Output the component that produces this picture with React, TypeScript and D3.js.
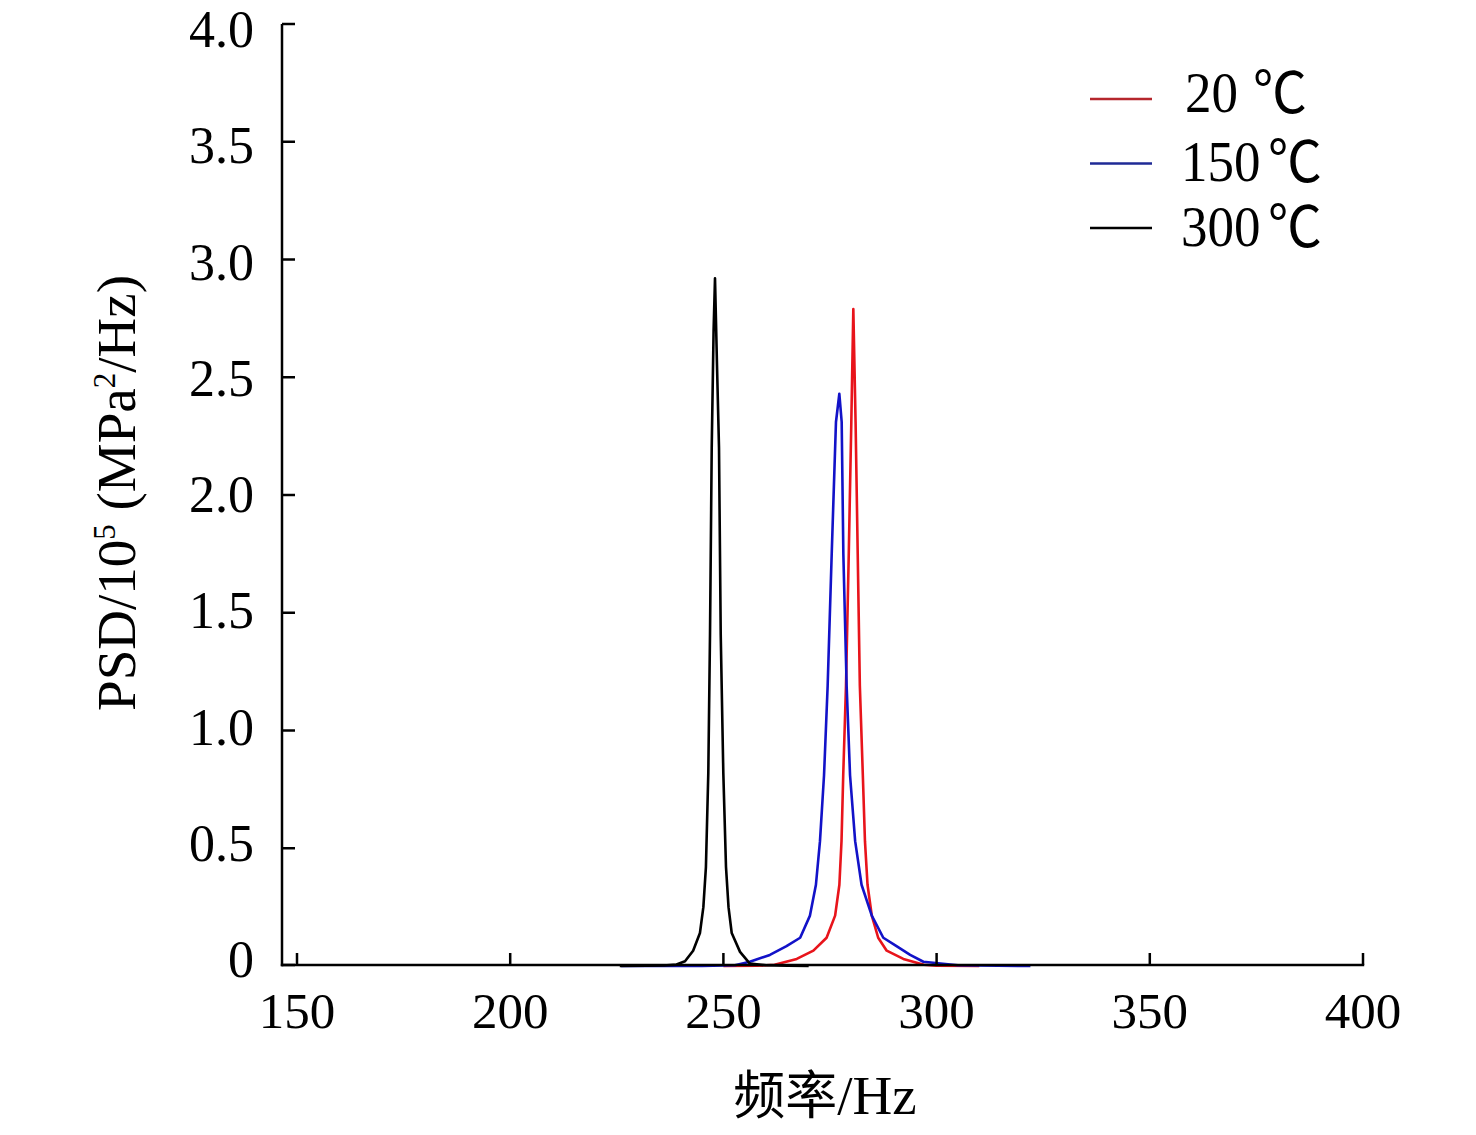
import { useEffect, useRef } from 'react'
import * as d3 from 'd3'

// (Hz, PSD / 1e5 MPa^2/Hz)
const freq20 = [250, 258, 262, 267.2, 271.1, 274.2, 276.2, 277.2, 277.7, 278.1, 278.75, 279.4, 280.0, 280.47, 281.0, 281.5, 282.0, 282.7, 283.2, 283.8, 284.8, 286.3, 288.3, 292.2, 297, 300, 310]
const psd20 = [0, 0.001, 0.005, 0.03, 0.065, 0.12, 0.214, 0.345, 0.53, 0.81, 1.19, 1.75, 2.31, 2.79, 2.31, 1.75, 1.19, 0.81, 0.53, 0.345, 0.214, 0.12, 0.065, 0.03, 0.005, 0.001, 0]

const freq150 = [226, 245, 252.7, 256.2, 260.9, 264.8, 268.0, 270.3, 271.7, 272.65, 273.6, 274.45, 275.4, 276.4, 277.19, 277.74, 278.13, 278.9, 279.7, 280.9, 282.4, 284.8, 287.5, 290.6, 293.8, 296.9, 305, 322]
const psd150 = [0, 0, 0.003, 0.018, 0.047, 0.084, 0.12, 0.214, 0.345, 0.53, 0.81, 1.19, 1.75, 2.31, 2.43, 2.31, 1.75, 1.19, 0.81, 0.53, 0.345, 0.214, 0.12, 0.084, 0.047, 0.018, 0.003, 0]

const freq300 = [225.7, 232, 236, 239, 241, 242.9, 244.5, 245.3, 245.9, 246.46, 246.86, 247.26, 247.7, 248.03, 248.5, 248.97, 249.37, 249.98, 250.61, 251.2, 251.95, 253.9, 256.2, 260, 265, 270]
const psd300 = [0, 0.001, 0.002, 0.006, 0.02, 0.065, 0.14, 0.25, 0.42, 0.82, 1.41, 2.2, 2.7, 2.92, 2.55, 2.2, 1.41, 0.82, 0.42, 0.25, 0.14, 0.06, 0.01, 0.003, 0.001, 0]

const seriesTemps = ['20', '150', '300']
const xTicks = [150, 200, 250, 300, 350, 400]
const yTicks = [0, 0.5, 1.0, 1.5, 2.0, 2.5, 3.0, 3.5, 4.0]

const width = 1476
const height = 1135
const serif = '"Liberation Serif", "Times New Roman", serif'
const cjk = '"Noto Sans CJK SC", sans-serif'

export default function App() {
  const svgRef = useRef<SVGSVGElement>(null)

  useEffect(() => {
    if (!svgRef.current) return
    const svg = d3.select(svgRef.current)
    svg.selectAll('*').remove()

    const x = d3.scaleLinear().domain([150, 400]).range([297, 1363])
    const y = d3.scaleLinear().domain([0, 4]).range([966, 24])
    // tick labels sit on their own, slightly tighter spacing
    const yLabel = d3.scaleLinear().domain([0, 4]).range([977, 47])
    const axisLeft = 282
    const axisBottom = 965

    const series = [
      { temp: seriesTemps[0], f: freq20, v: psd20, color: '#e8141b', legend: '#b5262c' },
      { temp: seriesTemps[1], f: freq150, v: psd150, color: '#1212c8', legend: '#1f2a96' },
      { temp: seriesTemps[2], f: freq300, v: psd300, color: '#000000', legend: '#000000' }
    ]

    const line = d3.line<[number, number]>()
      .x(d => x(d[0]))
      .y(d => y(d[1]))

    series.forEach(s => {
      const pts = s.f.map((f, i) => [f, s.v[i]] as [number, number])
      svg.append('path')
        .attr('d', line(pts))
        .attr('fill', 'none')
        .attr('stroke', s.color)
        .attr('stroke-width', 2.6)
        .attr('stroke-linejoin', 'round')
    })

    // axes
    svg.append('line')
      .attr('x1', axisLeft).attr('x2', axisLeft)
      .attr('y1', y(4)).attr('y2', axisBottom + 1.2)
      .attr('stroke', '#000').attr('stroke-width', 2.5)
    svg.append('line')
      .attr('x1', axisLeft - 1.2).attr('x2', x(400) + 1.2)
      .attr('y1', axisBottom).attr('y2', axisBottom)
      .attr('stroke', '#000').attr('stroke-width', 2.5)

    yTicks.forEach(t => {
      const yy = t === 0 ? axisBottom : y(t)
      svg.append('line')
        .attr('x1', axisLeft).attr('x2', axisLeft + 13)
        .attr('y1', yy).attr('y2', yy)
        .attr('stroke', '#000').attr('stroke-width', 2.5)
      svg.append('text')
        .attr('x', 254)
        .attr('y', yLabel(t))
        .attr('text-anchor', 'end')
        .style('font-family', serif)
        .style('font-size', '52px')
        .text(t === 0 ? '0' : t.toFixed(1))
    })

    xTicks.forEach(t => {
      svg.append('line')
        .attr('x1', x(t)).attr('x2', x(t))
        .attr('y1', axisBottom).attr('y2', axisBottom - 12)
        .attr('stroke', '#000').attr('stroke-width', 2.5)
      svg.append('text')
        .attr('x', x(t))
        .attr('y', 1028)
        .attr('text-anchor', 'middle')
        .style('font-family', serif)
        .style('font-size', '51px')
        .text(t)
    })

    // axis titles
    const xt = svg.append('text')
      .attr('x', 825)
      .attr('y', 1114)
      .attr('text-anchor', 'middle')
      .style('font-family', serif)
      .style('font-size', '55px')
    xt.append('tspan').style('font-family', cjk).style('font-size', '52px').text('频率')
    xt.append('tspan').text('/Hz')

    const yt = svg.append('text')
      .attr('transform', 'translate(135,493) rotate(-90)')
      .attr('text-anchor', 'middle')
      .style('font-family', serif)
      .style('font-size', '55px')
    yt.append('tspan').text('PSD/10')
    yt.append('tspan').attr('dy', -20).style('font-size', '31px').text('5')
    yt.append('tspan').attr('dy', 20).text(' (MPa')
    yt.append('tspan').attr('dy', -20).style('font-size', '31px').text('2')
    yt.append('tspan').attr('dy', 20).text('/Hz)')

    // legend
    const legendBase = [112, 181, 246]
    series.forEach((s, i) => {
      const ly = 99 + i * 64.5
      svg.append('line')
        .attr('x1', 1090).attr('x2', 1152)
        .attr('y1', ly).attr('y2', ly)
        .attr('stroke', s.legend).attr('stroke-width', 2.6)
      svg.append('text')
        .attr('transform', `translate(${i === 0 ? 1185 : 1181},${legendBase[i]}) scale(1,1.08)`)
        .style('font-family', serif)
        .style('font-size', '53px')
        .text(s.temp)
      svg.append('text')
        .attr('transform', `translate(${i === 0 ? 1253 : 1268},${legendBase[i] + 1}) scale(1,1.05)`)
        .style('font-family', cjk)
        .style('font-size', '54px')
        .text('℃')
    })
  }, [])

  return (
    <svg
      ref={svgRef}
      width={width}
      height={height}
      style={{ position: 'absolute', left: 0, top: 0, background: '#fff' }}
    />
  )
}
